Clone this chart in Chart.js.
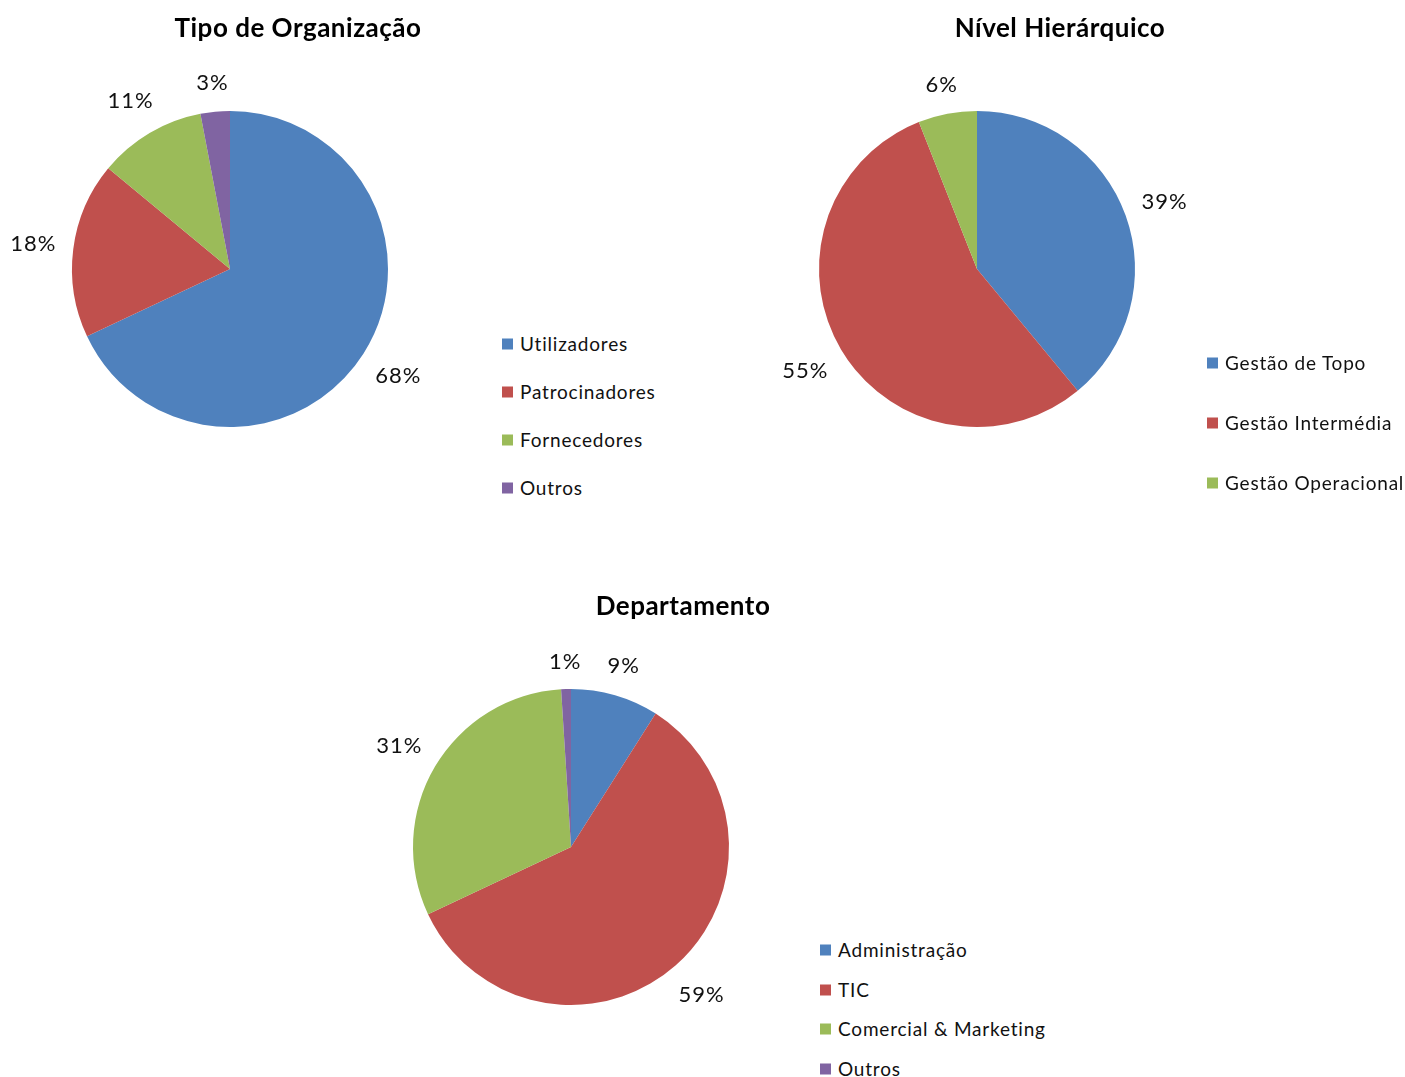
<!DOCTYPE html>
<html>
<head>
<meta charset="utf-8">
<script src="https://cdn.jsdelivr.net/npm/chart.js@4"></script>
<style>
  body { margin: 0; background: #fff; font-family: Lato, 'Open Sans', sans-serif; }
  #page { position: relative; width: 1405px; height: 1077px; overflow: hidden; }
  canvas { position: absolute; }
  .title { position: absolute; font-weight: bold; font-size: 26px; letter-spacing: 0.5px; color: #000; transform: translate(-50%, -50%); white-space: nowrap; }
  .legend { position: absolute; font-size: 19px; letter-spacing: 0.8px; color: #111; }
  .legend div { position: absolute; white-space: nowrap; display: flex; align-items: center; transform: translateY(-50%); }
  .legend span.box { display: inline-block; width: 11px; height: 11px; margin-right: 7px; margin-top: 2px; }
</style>
</head>
<body>
<div id="page"></div>
<script>
/* ── data ── */
const orgLabels = ['Utilizadores', 'Patrocinadores', 'Fornecedores', 'Outros'];
const orgValues = [68, 18, 11, 3];

const nivelLabels = ['Gestão de Topo', 'Gestão Intermédia', 'Gestão Operacional'];
const nivelValues = [39, 55, 6];

const deptLabels = ['Administração', 'TIC', 'Comercial & Marketing', 'Outros'];
const deptValues = [9, 59, 31, 1];

const COLORS = ['#4F81BD', '#C0504D', '#9BBB59', '#8064A2'];

/* percent labels outside each slice: nearest box edge sits a fixed gap from the arc */
const outsideLabels = {
  id: 'outsideLabels',
  afterDraw(chart) {
    const ctx = chart.ctx;
    const meta = chart.getDatasetMeta(0);
    const vals = chart.data.datasets[0].data;
    ctx.save();
    ctx.font = '22px Lato, "Open Sans", sans-serif';
    ctx.letterSpacing = '1px';
    ctx.fillStyle = '#111';
    ctx.textAlign = 'center';
    ctx.textBaseline = 'middle';
    meta.data.forEach((arc, i) => {
      const txt = vals[i] + '%';
      const mid = (arc.startAngle + arc.endAngle) / 2;
      const c = Math.cos(mid), s = Math.sin(mid);
      const hw = ctx.measureText(txt).width / 2, hh = 11;
      const d = arc.outerRadius + 16 + hw * Math.abs(c) + hh * Math.abs(s);
      ctx.fillText(txt, arc.x + c * d, arc.y + s * d);
    });
    ctx.restore();
  }
};

function makePie(cfg) {
  const page = document.getElementById('page');
  const pad = 80;
  const size = 2 * (cfg.r + pad);
  const cv = document.createElement('canvas');
  cv.style.left = (cfg.cx - cfg.r - pad) + 'px';
  cv.style.top = (cfg.cy - cfg.r - pad) + 'px';
  cv.style.width = size + 'px';
  cv.style.height = size + 'px';
  cv.width = size; cv.height = size;
  page.appendChild(cv);

  new Chart(cv, {
    type: 'pie',
    data: { labels: cfg.labels, datasets: [{ data: cfg.values, backgroundColor: COLORS.slice(0, cfg.values.length), borderWidth: 0, hoverOffset: 0 }] },
    options: {
      responsive: false, animation: false,
      layout: { padding: pad },
      plugins: { legend: { display: false }, tooltip: { enabled: false } }
    },
    plugins: [outsideLabels]
  });

  const t = document.createElement('div');
  t.className = 'title';
  t.textContent = cfg.title;
  t.style.left = cfg.tx + 'px'; t.style.top = cfg.ty + 'px';
  page.appendChild(t);

  const lg = document.createElement('div');
  lg.className = 'legend';
  lg.style.left = cfg.lx + 'px'; lg.style.top = cfg.ly + 'px';
  cfg.labels.forEach((lab, i) => {
    const it = document.createElement('div');
    it.style.top = (i * cfg.lgap) + 'px';
    it.innerHTML = `<span class="box" style="background:${COLORS[i]}"></span>`;
    it.appendChild(document.createTextNode(lab));
    lg.appendChild(it);
  });
  page.appendChild(lg);
}

makePie({ title: 'Tipo de Organização', tx: 298, ty: 27, cx: 230, cy: 269, r: 158,
  labels: orgLabels, values: orgValues, lx: 502, ly: 343, lgap: 48 });
makePie({ title: 'Nível Hierárquico', tx: 1060, ty: 27, cx: 977, cy: 269, r: 158,
  labels: nivelLabels, values: nivelValues, lx: 1207, ly: 362, lgap: 60 });
makePie({ title: 'Departamento', tx: 683, ty: 605, cx: 571, cy: 847, r: 158,
  labels: deptLabels, values: deptValues, lx: 820, ly: 949, lgap: 39.7 });
</script>
</body>
</html>
